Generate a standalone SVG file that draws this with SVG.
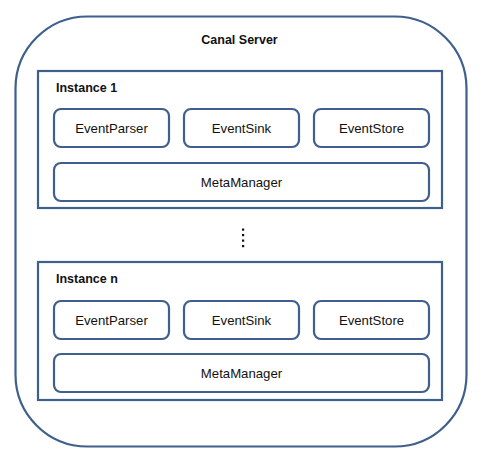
<svg xmlns="http://www.w3.org/2000/svg" width="485" height="457" viewBox="0 0 485 457">
<style>
.ln{fill:#fff;stroke:#3F5F8C;stroke-width:2.2}
.t{font-family:"Liberation Sans",Arial,sans-serif;font-size:13.2px;fill:#111}
.b{font-weight:bold;font-size:12.5px}
.c{text-anchor:middle}
</style>
<rect width="485" height="457" fill="#fff"/>
<g id="canal-server">
<rect class="ln" x="15.5" y="16.5" width="451" height="430" rx="72" ry="72"/>
<text class="t b c" x="239.5" y="44">Canal Server</text>
</g>
<g id="instance-1">
<rect class="ln" x="38" y="71" width="404" height="137"/>
<text class="t b" x="56" y="92">Instance 1</text>
<g id="i1-parser"><rect class="ln" x="54" y="109" width="115" height="38" rx="7"/><text class="t c" x="111.5" y="133">EventParser</text></g>
<g id="i1-sink"><rect class="ln" x="184" y="109" width="115" height="38" rx="7"/><text class="t c" x="241.5" y="133">EventSink</text></g>
<g id="i1-store"><rect class="ln" x="314" y="109" width="115" height="38" rx="7"/><text class="t c" x="371.5" y="133">EventStore</text></g>
<g id="i1-meta"><rect class="ln" x="54" y="163" width="375" height="38" rx="7"/><text class="t c" x="241.5" y="187">MetaManager</text></g>
</g>
<g id="ellipsis" fill="#111">
<rect x="242" y="228.5" width="2.2" height="2.2"/>
<rect x="242" y="234" width="2.2" height="2.2"/>
<rect x="242" y="239.5" width="2.2" height="2.2"/>
<rect x="242" y="245" width="2.2" height="2.2"/>
</g>
<g id="instance-n">
<rect class="ln" x="38" y="262" width="404" height="138"/>
<text class="t b" x="56" y="283">Instance n</text>
<g id="in-parser"><rect class="ln" x="54" y="301" width="115" height="38" rx="7"/><text class="t c" x="111.5" y="325">EventParser</text></g>
<g id="in-sink"><rect class="ln" x="184" y="301" width="115" height="38" rx="7"/><text class="t c" x="241.5" y="325">EventSink</text></g>
<g id="in-store"><rect class="ln" x="314" y="301" width="115" height="38" rx="7"/><text class="t c" x="371.5" y="325">EventStore</text></g>
<g id="in-meta"><rect class="ln" x="54" y="354" width="375" height="38" rx="7"/><text class="t c" x="241.5" y="378">MetaManager</text></g>
</g>
<g id="connectors"></g>
</svg>
